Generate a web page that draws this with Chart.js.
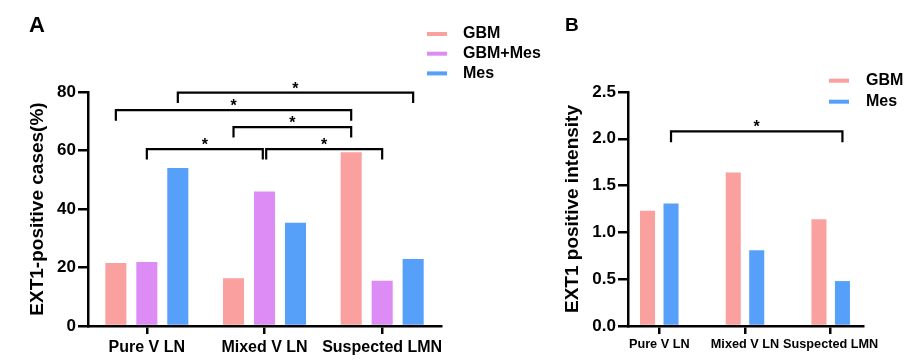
<!DOCTYPE html>
<html><head><meta charset="utf-8">
<script src="https://cdn.jsdelivr.net/npm/chart.js@4.4.0/dist/chart.umd.min.js"></script>
<style>
html,body{margin:0;padding:0;background:#fff;width:913px;height:364px;overflow:hidden}
canvas{position:absolute;top:0}
#a{left:0}#b{left:550px}
</style></head><body>
<canvas id="a" width="550" height="364"></canvas>
<canvas id="b" width="363" height="364"></canvas>
<script>
// ---------- data ----------
const categories = ['Pure V LN', 'Mixed V LN', 'Suspected LMN'];
const seriesNamesA = ['GBM', 'GBM+Mes', 'Mes'];
const gbmA = [21.5, 16.3, 59.4];
const gbmMesA = [21.9, 46.0, 15.5];
const mesA = [54.0, 35.3, 22.9];
const yTicksA = [0, 20, 40, 60, 80];
const titleA = 'EXT1-positive cases(%)';
// [fromDataset, fromCategory, toDataset, toCategory, level]
const bracketsA = [[2, 0, 2, 2, 79.8], [0, 0, 0, 2, 73.8], [0, 1, 0, 2, 68.0], [1, 0, 1, 1, 60.5], [1, 1, 1, 2, 60.5]];

const seriesNamesB = ['GBM', 'Mes'];
const gbmB = [1.23, 1.64, 1.14];
const mesB = [1.31, 0.81, 0.48];
const yTicksB = [0, 0.5, 1.0, 1.5, 2.0, 2.5];
const titleB = 'EXT1 positive intensity';
const bracketsB = [[1, 0, 1, 2, 2.08]];

// ---------- styles ----------
const FAM = "'Liberation Sans', Arial, sans-serif";
const C_GBM = '#FAA09F', C_MIX = '#DE8CF5', C_MES = '#56A0FA';
Chart.defaults.font.family = FAM;
Chart.defaults.color = '#000';

const bracketPlugin = {
  id: 'brackets',
  afterDatasetsDraw(chart, args, o) {
    const ctx = chart.ctx, ys = chart.scales.y, list = o.list;
    ctx.save();
    ctx.strokeStyle = '#000'; ctx.lineWidth = o.lineWidth; ctx.lineCap = 'butt'; ctx.lineJoin = 'miter';
    ctx.fillStyle = '#000'; ctx.font = o.font; ctx.textAlign = 'center'; ctx.textBaseline = 'alphabetic';
    list.forEach(b => {
      let x1 = chart.getDatasetMeta(b[0]).data[b[1]].x;
      let x2 = chart.getDatasetMeta(b[2]).data[b[3]].x;
      list.forEach(q => {
        if (q !== b && q[4] === b[4]) {
          if (q[2] === b[0] && q[3] === b[1]) x1 += o.inset;
          if (q[0] === b[2] && q[1] === b[3]) x2 -= o.inset;
        }
      });
      const yy = ys.getPixelForValue(b[4]);
      ctx.beginPath();
      ctx.moveTo(x1, yy + o.leg); ctx.lineTo(x1, yy); ctx.lineTo(x2, yy); ctx.lineTo(x2, yy + o.leg);
      ctx.stroke();
      ctx.fillText('*', (x1 + x2) / 2, yy + o.starDy);
    });
    ctx.restore();
  }
};

const legendPlugin = {
  id: 'lineLegend',
  afterDraw(chart, args, o) {
    const ctx = chart.ctx;
    ctx.save();
    ctx.font = o.font; ctx.textBaseline = 'middle'; ctx.textAlign = 'left';
    chart.data.datasets.forEach((d, i) => {
      const yy = o.y + i * o.rowH;
      ctx.fillStyle = d.backgroundColor;
      ctx.fillRect(o.x, yy - o.h / 2, o.w, o.h);
      ctx.fillStyle = '#000';
      ctx.fillText(d.label, o.textX, yy);
    });
    ctx.font = o.panelFont; ctx.textBaseline = 'alphabetic';
    ctx.fillText(o.panel, o.panelX, o.panelY);
    ctx.restore();
  }
};

function yAxis(ticks, title, width, titlePad, fmt) {
  return {
    type: 'linear', min: ticks[0], max: ticks[ticks.length - 1],
    afterBuildTicks: s => { s.ticks = ticks.map(v => ({ value: v })); },
    afterFit: s => { s.width = width; },
    ticks: { font: { size: 17, weight: 'bold' }, padding: 2, color: '#000', callback: fmt },
    grid: { display: true, drawOnChartArea: false, drawTicks: true, tickLength: 10, lineWidth: 2.5, color: '#000' },
    border: { display: true, width: 2.5, color: '#000' },
    title: { display: true, text: title, font: { size: 19, weight: 'bold' }, color: '#000', padding: { top: titlePad, bottom: 0 } }
  };
}

// ---------- chart A ----------
new Chart(document.getElementById('a'), {
  type: 'bar',
  data: {
    labels: categories,
    datasets: [
      { label: seriesNamesA[0], data: gbmA, backgroundColor: C_GBM },
      { label: seriesNamesA[1], data: gbmMesA, backgroundColor: C_MIX },
      { label: seriesNamesA[2], data: mesA, backgroundColor: C_MES }
    ]
  },
  options: {
    responsive: false, animation: false, devicePixelRatio: 1,
    layout: { padding: { left: 0, right: 109, top: 92, bottom: 0 } },
    datasets: { bar: { categoryPercentage: 0.79, barPercentage: 0.68 } },
    scales: {
      x: {
        type: 'category', offset: true,
        afterFit: s => { s.height = 38; },
        ticks: { font: { size: 16, weight: 'bold' }, padding: 4, color: '#000', maxRotation: 0, autoSkip: false },
        grid: { display: true, offset: false, drawOnChartArea: false, drawTicks: true, tickLength: 8, lineWidth: 2.5, color: '#000' },
        border: { display: true, width: 2.5, color: '#000' }
      },
      y: yAxis(yTicksA, titleA, 88, 26.6, v => String(v))
    },
    plugins: {
      legend: { display: false }, tooltip: { enabled: false },
      brackets: { list: bracketsA, lineWidth: 2.2, leg: 10.5, inset: 1.7, font: 'bold 16px ' + FAM, starDy: 1 },
      lineLegend: { x: 427, y: 34, rowH: 19.7, w: 20, h: 4, textX: 463, font: 'bold 16px ' + FAM,
        panel: 'A', panelX: 29, panelY: 31.5, panelFont: 'bold 22px ' + FAM }
    }
  },
  plugins: [bracketPlugin, legendPlugin]
});

// ---------- chart B ----------
const ptsB = arr => arr.map((v, i) => ({ x: i, y: v }));
new Chart(document.getElementById('b'), {
  type: 'bar',
  data: {
    datasets: [
      { label: seriesNamesB[0], data: ptsB(gbmB), backgroundColor: C_GBM },
      { label: seriesNamesB[1], data: ptsB(mesB), backgroundColor: C_MES }
    ]
  },
  options: {
    responsive: false, animation: false, devicePixelRatio: 1,
    layout: { padding: { left: 0, right: 50, top: 92, bottom: 0 } },
    datasets: { bar: { categoryPercentage: 0.548, barPercentage: 0.64 } },
    scales: {
      x: {
        type: 'linear', min: -0.365, max: 2.377, offset: false,
        afterBuildTicks: s => { s.ticks = categories.map((c, i) => ({ value: i })); },
        afterFit: s => { s.height = 38; },
        ticks: { font: { size: 12.7, weight: 'bold' }, padding: 3, color: '#000', maxRotation: 0, autoSkip: false,
          callback: v => categories[v] },
        grid: { display: true, offset: false, drawOnChartArea: false, drawTicks: true, tickLength: 8, lineWidth: 2.5, color: '#000' },
        border: { display: true, width: 2.5, color: '#000' }
      },
      y: yAxis(yTicksB, titleB, 78, 11.6, v => v.toFixed(1))
    },
    plugins: {
      legend: { display: false }, tooltip: { enabled: false },
      brackets: { list: bracketsB, lineWidth: 2.2, leg: 11, inset: 1.7, font: 'bold 16px ' + FAM, starDy: 0.5 },
      lineLegend: { x: 279, y: 80.7, rowH: 21, w: 20, h: 4, textX: 316, font: 'bold 16px ' + FAM,
        panel: 'B', panelX: 15, panelY: 31, panelFont: 'bold 19px ' + FAM }
    }
  },
  plugins: [bracketPlugin, legendPlugin]
});
</script>
</body></html>
